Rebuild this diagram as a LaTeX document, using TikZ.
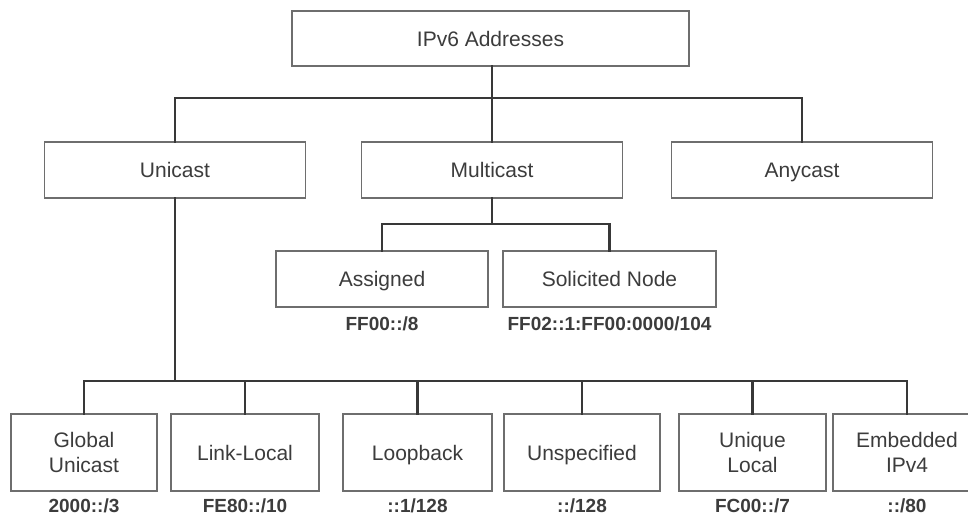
\documentclass[tikz,border=0pt]{standalone}
\usepackage{fontspec}
\setmainfont{Liberation Sans}
\begin{document}
\begin{tikzpicture}[x=1pt,y=-1pt,
  frame/.style={draw=boxgray, line width=1.1pt, fill=white, text=txtgray,
    inner sep=0pt, font=\fontsize{21}{25.5}\selectfont},
  box/.style={frame, text height=15pt, text depth=0pt},
  toprow/.style={box, minimum width=261pt, minimum height=56pt},
  leaf/.style={frame, align=center, minimum height=77pt},
  addr/.style={text=txtgray, inner sep=0pt, anchor=base,
    font=\fontsize{19}{22}\selectfont\bfseries},
  link/.style={draw=linegray, line width=2.2pt, line cap=rect}
]
\definecolor{boxgray}{HTML}{6E6E6E}
\definecolor{txtgray}{HTML}{3C3C3C}
\definecolor{linegray}{HTML}{383838}

\useasboundingbox (0,0) rectangle (968,515);
\clip (0,0) rectangle (968,515);
\fill[white] (0,0) rectangle (968,515);

% junction rows
\coordinate (topbar) at (0,98);
\coordinate (mbar) at (0,224);
\coordinate (lbar) at (0,381);

% boxes
\node[box, minimum width=397pt, minimum height=55pt] (root) at (490.5,38.5) {IPv6 Addresses};
\node[toprow] (uni) at (175,170) {Unicast};
\node[toprow] (multi) at (492,170) {Multicast};
\node[toprow] (any) at (802,170) {Anycast};

\node[box, minimum width=212pt, minimum height=56pt] (asg) at (382,279) {Assigned};
\node[box, minimum width=213pt, minimum height=56pt] (sol) at (609.5,279) {Solicited Node};

\node[leaf, minimum width=146pt] (glob) at (84,452.5) {Global\\Unicast};
\node[box, minimum width=148pt, minimum height=77pt] (ll) at (245,452.5) {Link-Local};
\node[box, minimum width=149pt, minimum height=77pt] (loop) at (417.5,452.5) {Loopback};
\node[box, minimum width=156pt, minimum height=77pt] (unsp) at (582,452.5) {Unspecified};
\node[leaf, minimum width=147pt] (ula) at (752.5,452.5) {Unique\\Local};
\node[leaf, minimum width=148pt] (emb) at (907,452.5) {Embedded\\IPv4};

% first level
\draw[link] (root.south -| multi.north) -- (multi.north);
\draw[link] (uni.north) -- (uni.north |- topbar) -- (any.north |- topbar) -- (any.north);

% multicast branch
\draw[link] (multi.south) -- (multi.south |- mbar);
\draw[link] (asg.north) -- (asg.north |- mbar) -- (sol.north |- mbar) -- (sol.north);

% unicast branch
\draw[link] (uni.south) -- (uni.south |- lbar);
\draw[link] (glob.north) -- (glob.north |- lbar) -- (emb.north |- lbar) -- (emb.north);
\draw[link] (ll.north) -- (ll.north |- lbar);
\draw[link] (loop.north) -- (loop.north |- lbar);
\draw[link] (unsp.north) -- (unsp.north |- lbar);
\draw[link] (ula.north) -- (ula.north |- lbar);

% address prefixes
\node[addr] (asgp) at (382,330) {FF00::/8};
\node[addr] (solp) at (609.5,330) {FF02::1:FF00:0000/104};
\node[addr] (globp) at (84,512) {2000::/3};
\node[addr] (llp) at (245,512) {FE80::/10};
\node[addr] (loopp) at (417.5,512) {::1/128};
\node[addr] (unspp) at (582,512) {::/128};
\node[addr] (ulap) at (752.5,512) {FC00::/7};
\node[addr] (embp) at (907,512) {::/80};
\end{tikzpicture}
\end{document}
